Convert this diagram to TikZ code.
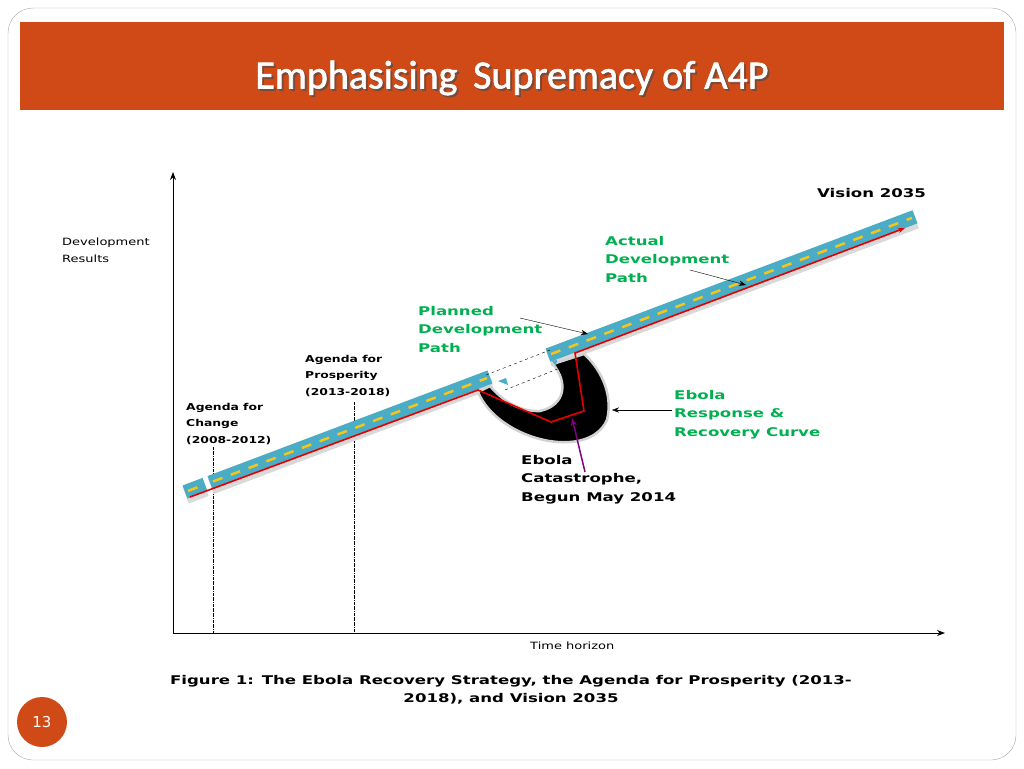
\documentclass[tikz,border=0pt]{standalone}
\usepackage{fontspec}
\setmainfont{DejaVu Sans}
\newfontfamily\wide[FakeStretch=1.38]{DejaVu Sans}
\newfontfamily\wider[FakeStretch=1.3]{DejaVu Sans}
\newfontfamily\ttl[FakeBold=1.5]{Carlito}
\usetikzlibrary{arrows.meta}
\definecolor{hdr}{HTML}{D04A17}
\definecolor{road}{HTML}{4BACC6}
\definecolor{grn}{HTML}{00B050}
\definecolor{ylw}{HTML}{F5C518}
\tikzset{lbl/.style={font=\wide\fontsize{12}{18.5}\selectfont\bfseries,align=left,anchor=north west,inner sep=0pt},
sm/.style={font=\wider\fontsize{10}{16.5}\selectfont,align=left,anchor=north west,inner sep=0pt},
smb/.style={font=\wider\fontsize{9.5}{16.5}\selectfont\bfseries,align=left,anchor=north west,inner sep=0pt},
ann/.style={-{Stealth[length=7pt]},thin}}
\begin{document}
\begin{tikzpicture}[x=1pt,y=-1pt]
\useasboundingbox (0,0) rectangle (1024,768);
\draw[gray!70,rounded corners=25pt] (8,8) rectangle (1016,760);
\fill[hdr] (20,22) rectangle (1004,110);
\node[font=\ttl\fontsize{40}{42}\selectfont,text=black!70,opacity=0.6] at (514,80) {Emphasising\, Supremacy of A4P};
\node[font=\ttl\fontsize{40}{42}\selectfont,text=white] (title) at (512,78) {Emphasising\, Supremacy of A4P};
% axes
\coordinate (o) at (173,633);
\coordinate (ytop) at (173,172);
\coordinate (xend) at (945,633);
\draw[-{Stealth[length=8pt]},thick] (o) -- (ytop);
\draw[-{Stealth[length=8pt]},thick] (o) -- (xend);
\draw[densely dashdotted] (213,447) -- (213,633);
\draw[densely dashdotted] (354,402) -- (354,633);
% road: centre y = 492 - 0.377(x-185)
\foreach \a/\b in {185/205,210/490,548/915}{
 \pgfmathsetmacro\ya{492-0.377*(\a-185)}
 \pgfmathsetmacro\yb{492-0.377*(\b-185)}
 \draw[line width=16pt,gray!30] (\a+1,\ya+4) -- (\b+1,\yb+4);
 \draw[line width=14pt,road] (\a,\ya) -- (\b,\yb);
 \draw[line width=2.5pt,ylw,dash pattern=on 10pt off 9pt] (\a+3,\ya-1.1) -- (\b-3,\yb+1.1);
}
% ebola curve
\filldraw[black,draw=gray!35,line width=2.5pt] (478,392) .. controls (498,440) and (588,462) .. (607,420)
 .. controls (614,392) and (598,366) .. (584,354) -- (553,364)
 .. controls (568,382) and (566,405) .. (540,411) .. controls (518,412) and (500,398) .. (490,386) -- cycle;
\draw[dashed,thin] (486,375) -- (550,350);
\draw[dashed,thin] (505,390) -- (560,368);
\fill[road] (498,381) -- (506,378) -- (508,385) -- cycle;
\fill[road] (552,361) -- (557,360) -- (556,366) -- cycle;
% red path
\coordinate (r0) at (190,497);
\coordinate (r1) at (478,390);
\coordinate (r2) at (551,422);
\coordinate (r3) at (584,411);
\coordinate (r4) at (575,353);
\coordinate (r5) at (905,228);
\draw[red!90!black,line width=1.6pt,-{Stealth[length=7pt]}] (r0) -- (r1) -- (r2) -- (r3) -- (r4) -- (r5);
% labels
\node[lbl] (vis) at (817,188) {Vision 2035};
\node[lbl,text=grn] (act) at (605,236) {Actual\\Development\\Path};
\node[lbl,text=grn] (pln) at (418,306) {Planned\\Development\\Path};
\node[lbl,text=grn] (erc) at (674,390) {Ebola\\Response \&\\Recovery Curve};
\node[lbl] (cat) at (521,455) {Ebola\\Catastrophe,\\Begun May 2014};
\node[sm] (dev) at (62,238) {Development\\Results};
\node[smb] (a4p) at (305,355) {Agenda for\\Prosperity\\(2013-2018)};
\node[smb] (a4c) at (186,403) {Agenda for\\Change\\(2008-2012)};
\node[sm] (th) at (530,642) {Time horizon};
\node[font=\wide\fontsize{12}{18.5}\selectfont\bfseries,align=center] (fig) at (511,690) {Figure 1: The Ebola Recovery Strategy, the Agenda for Prosperity (2013-\\2018), and Vision 2035};
\coordinate (pa) at (588,334);
\coordinate (aa) at (746,285);
\coordinate (ea) at (612,410);
\coordinate (ca) at (572,418);
\draw[ann] (520,318) -- (pa);
\draw[ann] (690,270) -- (aa);
\draw[ann] (672,410) -- (ea);
\draw[-{Stealth[length=8pt]},line width=1.5pt,violet] (585,472) -- (ca);
\fill[hdr] (42,722) circle (25);
\node[font=\fontsize{15}{18}\selectfont,text=white] (pg) at (42,722) {13};
\end{tikzpicture}
\end{document}
